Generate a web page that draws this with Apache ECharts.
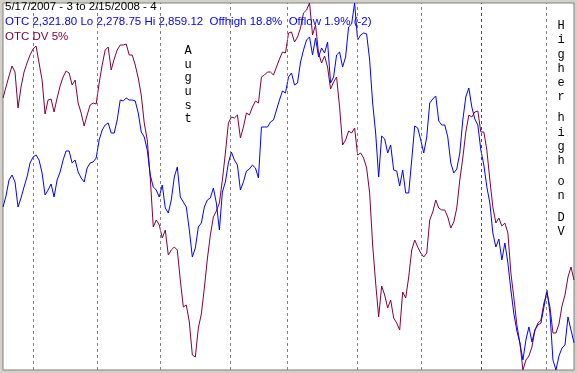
<!DOCTYPE html>
<html><head><meta charset="utf-8">
<script src="https://cdn.jsdelivr.net/npm/echarts/dist/echarts.min.js"></script>
<style>html,body{margin:0;padding:0;background:#d4d0c8;overflow:hidden}#c{width:577px;height:373px}</style>
</head><body><div id="c"></div>
<script>
// OTC (Nasdaq composite) daily closes, 5/17/2007 .. 2/15/2008 (191 trading days)
const otcClose = [
2536.5,2553.9,2579.2,2587.1,2576.1,2536.5,2550.8,2568.2,2584.0,2606.1,
2615.6,2618.8,2610.8,2590.3,2555.5,2563.4,2572.9,2552.3,2579.2,2591.9,
2610.8,2625.1,2625.1,2606.1,2610.8,2591.9,2582.4,2576.1,2598.2,2606.1,
2607.7,2614.0,2642.5,2658.3,2666.2,2669.4,2653.5,2653.5,2674.1,2705.7,
2704.2,2708.9,2705.7,2705.7,2704.2,2685.2,2655.1,2647.2,2626.7,2587.1,
2568.2,2563.4,2552.3,2571.3,2534.9,2527.0,2547.6,2584.0,2599.8,2552.3,
2544.4,2536.5,2500.1,2457.4,2471.7,2504.9,2511.2,2536.5,2547.6,2550.8,
2566.6,2542.8,2500.1,2560.2,2576.1,2606.1,2623.5,2610.8,2602.9,2563.4,
2576.1,2593.4,2596.6,2602.9,2598.2,2582.4,2663.0,2663.0,2663.0,2670.9,
2674.1,2689.9,2705.7,2720.0,2716.8,2742.1,2748.4,2729.4,2732.6,2765.8,
2784.8,2800.6,2805.4,2776.9,2803.8,2773.7,2788.0,2780.0,2797.4,2732.6,
2742.1,2776.9,2781.6,2757.9,2773.7,2821.2,2825.9,2859.12,2800.6,2808.5,
2811.7,2810.1,2769.0,2701.0,2653.5,2584.0,2648.8,2644.1,2621.9,2634.6,
2595.0,2593.4,2569.7,2595.0,2558.7,2558.7,2610.8,2664.6,2661.4,2642.5,
2621.9,2647.2,2701.0,2707.3,2712.1,2672.5,2666.2,2666.2,2647.2,2606.1,
2590.3,2596.6,2621.9,2674.1,2710.5,2724.7,2694.7,2675.7,2666.2,2626.7,
2602.9,2568.2,2542.8,2495.4,2473.3,2485.9,2452.7,2479.6,2448.0,2405.3,
2367.3,2340.4,2321.4,2294.6,2326.2,2346.8,2323.0,2342.0,2349.9,2353.1,
2378.4,2405.3,2368.9,2294.6,2278.75,2300.9,2313.5,2318.3,2362.6,2342.0,
2321.80
];
// OTC DV 5% indicator (relative units)
const otcDV = [
272,283,294,304,298,262,283,298,307,315,
321,324,307,290,256,270,271,258,272,284,
293,299,297,285,290,267,257,244,255,265,
267,266,287,305,320,323,300,311,320,325,
325,326,315,315,305,292,275,247,230,192,
143,150,145,132,140,115,120,123,120,90,
63,65,48,15,13,42,56,82,111,135,
153,159,167,190,217,247,253,252,255,232,
243,257,255,263,269,267,293,295,298,298,
295,303,311,318,317,337,338,328,333,342,
357,360,367,335,345,317,307,314,303,281,
288,293,263,225,230,239,237,242,215,217,
212,202,177,125,87,53,84,75,62,70,
52,47,40,78,72,93,120,130,123,117,
113,117,150,158,170,162,160,160,153,142,
148,162,190,212,238,255,253,258,259,238,
238,220,190,163,147,152,144,147,137,97,
72,45,27,0,10,14,23,40,47,50,
67,77,63,37,37,46,64,75,93,103,
90
];
// month boundaries (in trading-day index units)
const monthBreaks = [10, 31.3, 52.3, 75.7, 94.7, 118, 139.3, 159.3, 180.7];
const monthNames  = ['Jun','Jul','Aug','Sep','Oct','Nov','Dec','Jan','Feb'];
const yearBreak = 'Jan';

const headerLines = [
  {text:'5/17/2007 - 3 to 2/15/2008 - 4', color:'#000000'},
  {text:'OTC 2,321.80 Lo 2,278.75 Hi 2,859.12  Offhigh 18.8%  Offlow 1.9% (-2)', color:'#0000ff'},
  {text:'OTC DV 5%', color:'#800040'}
];
const notes = [
  {text:'August', x:188, y:45, step:13.6, gap:7},
  {text:'Higher high on DV', x:561, y:20, step:14.2, gap:7}
];

const chart = echarts.init(document.getElementById('c'), null, {renderer:'canvas'});

const graphic = [];
headerLines.forEach((h,k)=>{
  graphic.push({type:'text', left:5, top:1+k*14.8, z:100,
    style:{text:h.text, fill:h.color, font:'11.5px "Liberation Sans", Arial, sans-serif'}});
});
notes.forEach(n=>{
  let y = n.y;
  for (const ch of n.text) {
    if (ch === ' ') { y += n.gap; continue; }
    graphic.push({type:'text', x:n.x, y:y, z:100,
      style:{text:ch, fill:'#000', textAlign:'center', textVerticalAlign:'top',
        font:'12px "Liberation Mono", "Courier New", monospace'}});
    y += n.step;
  }
});

chart.setOption({
  animation:false,
  backgroundColor:'#d4d0c8',
  grid:{left:3, right:3, top:3, bottom:3, show:true, backgroundColor:'#ffffff', borderColor:'#808080', borderWidth:1},
  xAxis:{type:'value', min:0, max:otcClose.length-1, show:false},
  yAxis:[
    {type:'value', min:'dataMin', max:'dataMax', show:false, scale:true},
    {type:'value', min:'dataMin', max:'dataMax', show:false, scale:true}
  ],
  graphic: graphic,
  series:[
    {name:'OTC DV 5%', type:'line', yAxisIndex:1, showSymbol:false, symbol:'none',
     data: otcDV.map((v,i)=>[i,v]),
     lineStyle:{color:'#800040', width:1}, itemStyle:{color:'#800040'},
     markLine:{silent:true, symbol:'none', label:{show:false},
       data: monthBreaks.map((v,k)=>({xAxis:v, lineStyle:{color: monthNames[k]===yearBreak ? '#ff0000' : '#808080', type:[3,3], width:1}}))}
    },
    {name:'OTC', type:'line', yAxisIndex:0, showSymbol:false, symbol:'none',
     data: otcClose.map((v,i)=>[i,v]),
     lineStyle:{color:'#0000ff', width:1}, itemStyle:{color:'#0000ff'}}
  ]
});
</script></body></html>
